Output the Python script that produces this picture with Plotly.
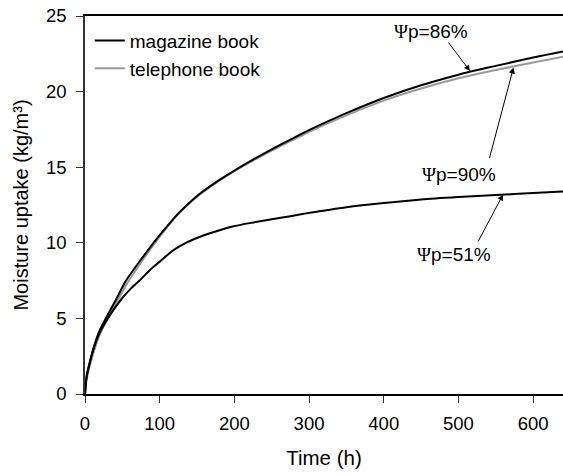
import plotly.graph_objects as go

# Time (h)
t_mag86 = [0, 2, 5, 10, 15, 20, 30, 40, 55, 75, 100, 125, 150, 175, 200, 225, 250, 275, 300, 325, 350, 400, 450, 500, 550, 600, 640]
v_mag86 = [0, 1.1, 1.8, 2.8, 3.6, 4.25, 5.2, 6.1, 7.5, 8.9, 10.5, 11.95, 13.1, 14.0, 14.78, 15.5, 16.18, 16.83, 17.45, 18.03, 18.58, 19.58, 20.42, 21.12, 21.7, 22.25, 22.65]

t_tel90 = [0, 2, 5, 10, 15, 20, 30, 40, 55, 75, 100, 125, 150, 175, 200, 225, 250, 275, 300, 325, 350, 400, 450, 500, 550, 600, 640]
v_tel90 = [0, 0.9, 1.6, 2.5, 3.3, 3.95, 4.95, 5.85, 7.2, 8.7, 10.4, 11.9, 13.05, 13.95, 14.74, 15.44, 16.1, 16.73, 17.33, 17.9, 18.43, 19.4, 20.2, 20.88, 21.43, 21.92, 22.3]

t_mag51 = [0, 2, 5, 10, 15, 20, 30, 40, 50, 60, 75, 87, 100, 118, 135, 155, 175, 195, 220, 250, 275, 300, 325, 350, 400, 450, 500, 550, 600, 640]
v_mag51 = [0, 1.1, 1.8, 2.75, 3.5, 4.1, 4.95, 5.7, 6.35, 6.9, 7.6, 8.2, 8.75, 9.5, 10.0, 10.42, 10.75, 11.04, 11.3, 11.55, 11.76, 11.98, 12.17, 12.35, 12.63, 12.87, 13.03, 13.16, 13.29, 13.4]

x_ticks = [0, 100, 200, 300, 400, 500, 600]
y_ticks = [0, 5, 10, 15, 20, 25]

# annotation labels: text, text position, arrow tail, arrow head (data units)
labels = ["86%", "90%", "51%"]
label_xy = [(462.8, 24.0), (501.0, 14.5), (494.0, 9.2)]
arrow_tail = [(485.0, 23.35), (541.0, 15.5), (525.4, 10.0)]
arrow_head = [(515.5, 21.36), (573.7, 21.59), (559.8, 13.2)]

FONT = "Liberation Sans, Arial, sans-serif"

fig = go.Figure()
fig.add_trace(go.Scatter(x=t_tel90, y=v_tel90, mode="lines", name="telephone book",
                         line=dict(color="#999999", width=2, shape="spline", smoothing=0.8),
                         legendrank=2))
fig.add_trace(go.Scatter(x=t_mag51, y=v_mag51, mode="lines", name="magazine book",
                         line=dict(color="black", width=2, shape="spline", smoothing=0.8),
                         showlegend=False))
fig.add_trace(go.Scatter(x=t_mag86, y=v_mag86, mode="lines", name="magazine book",
                         line=dict(color="black", width=2, shape="spline", smoothing=0.8),
                         legendrank=1))

for lab, (tx, ty), (ax_, ay_), (hx, hy) in zip(labels, label_xy, arrow_tail, arrow_head):
    fig.add_annotation(x=tx, y=ty, xref="x", yref="y", showarrow=False,
                       text='<span style="font-family:Liberation Serif">Ψ</span>p=' + lab,
                       font=dict(family=FONT, size=19, color="black"))
    fig.add_annotation(x=hx, y=hy, ax=ax_, ay=ay_, xref="x", yref="y", axref="x", ayref="y",
                       text="", showarrow=True, arrowhead=2, arrowsize=1.2, arrowwidth=1,
                       arrowcolor="black", standoff=0, startstandoff=0)

fig.update_layout(
    width=563, height=476,
    margin=dict(l=85, r=0, t=16, b=82),
    paper_bgcolor="white", plot_bgcolor="white",
    font=dict(family=FONT, size=18.5, color="black"),
    showlegend=True,
    legend=dict(x=0.01, y=0.985, xanchor="left", yanchor="top", bgcolor="rgba(0,0,0,0)",
                font=dict(size=19), tracegroupgap=0, itemwidth=30),
)
fig.update_xaxes(range=[0, 640], tickvals=x_ticks, ticks="outside", ticklen=7, tickcolor="#333",
                 tickfont=dict(size=18.5), ticklabelstandoff=5,
                 showline=True, linecolor="black", linewidth=1.5, mirror=True, showgrid=False,
                 zeroline=False, title=dict(text="Time (h)", font=dict(size=20.5), standoff=18))
fig.update_yaxes(range=[0, 25], tickvals=y_ticks, ticks="outside", ticklen=7, tickcolor="#333",
                 tickfont=dict(size=18.5), ticklabelstandoff=6,
                 showline=True, linecolor="#333", linewidth=1.5, showgrid=False, zeroline=False,
                 title=dict(text="Moisture uptake (kg/m³)", font=dict(size=20), standoff=12))

fig.write_html("out.html")
